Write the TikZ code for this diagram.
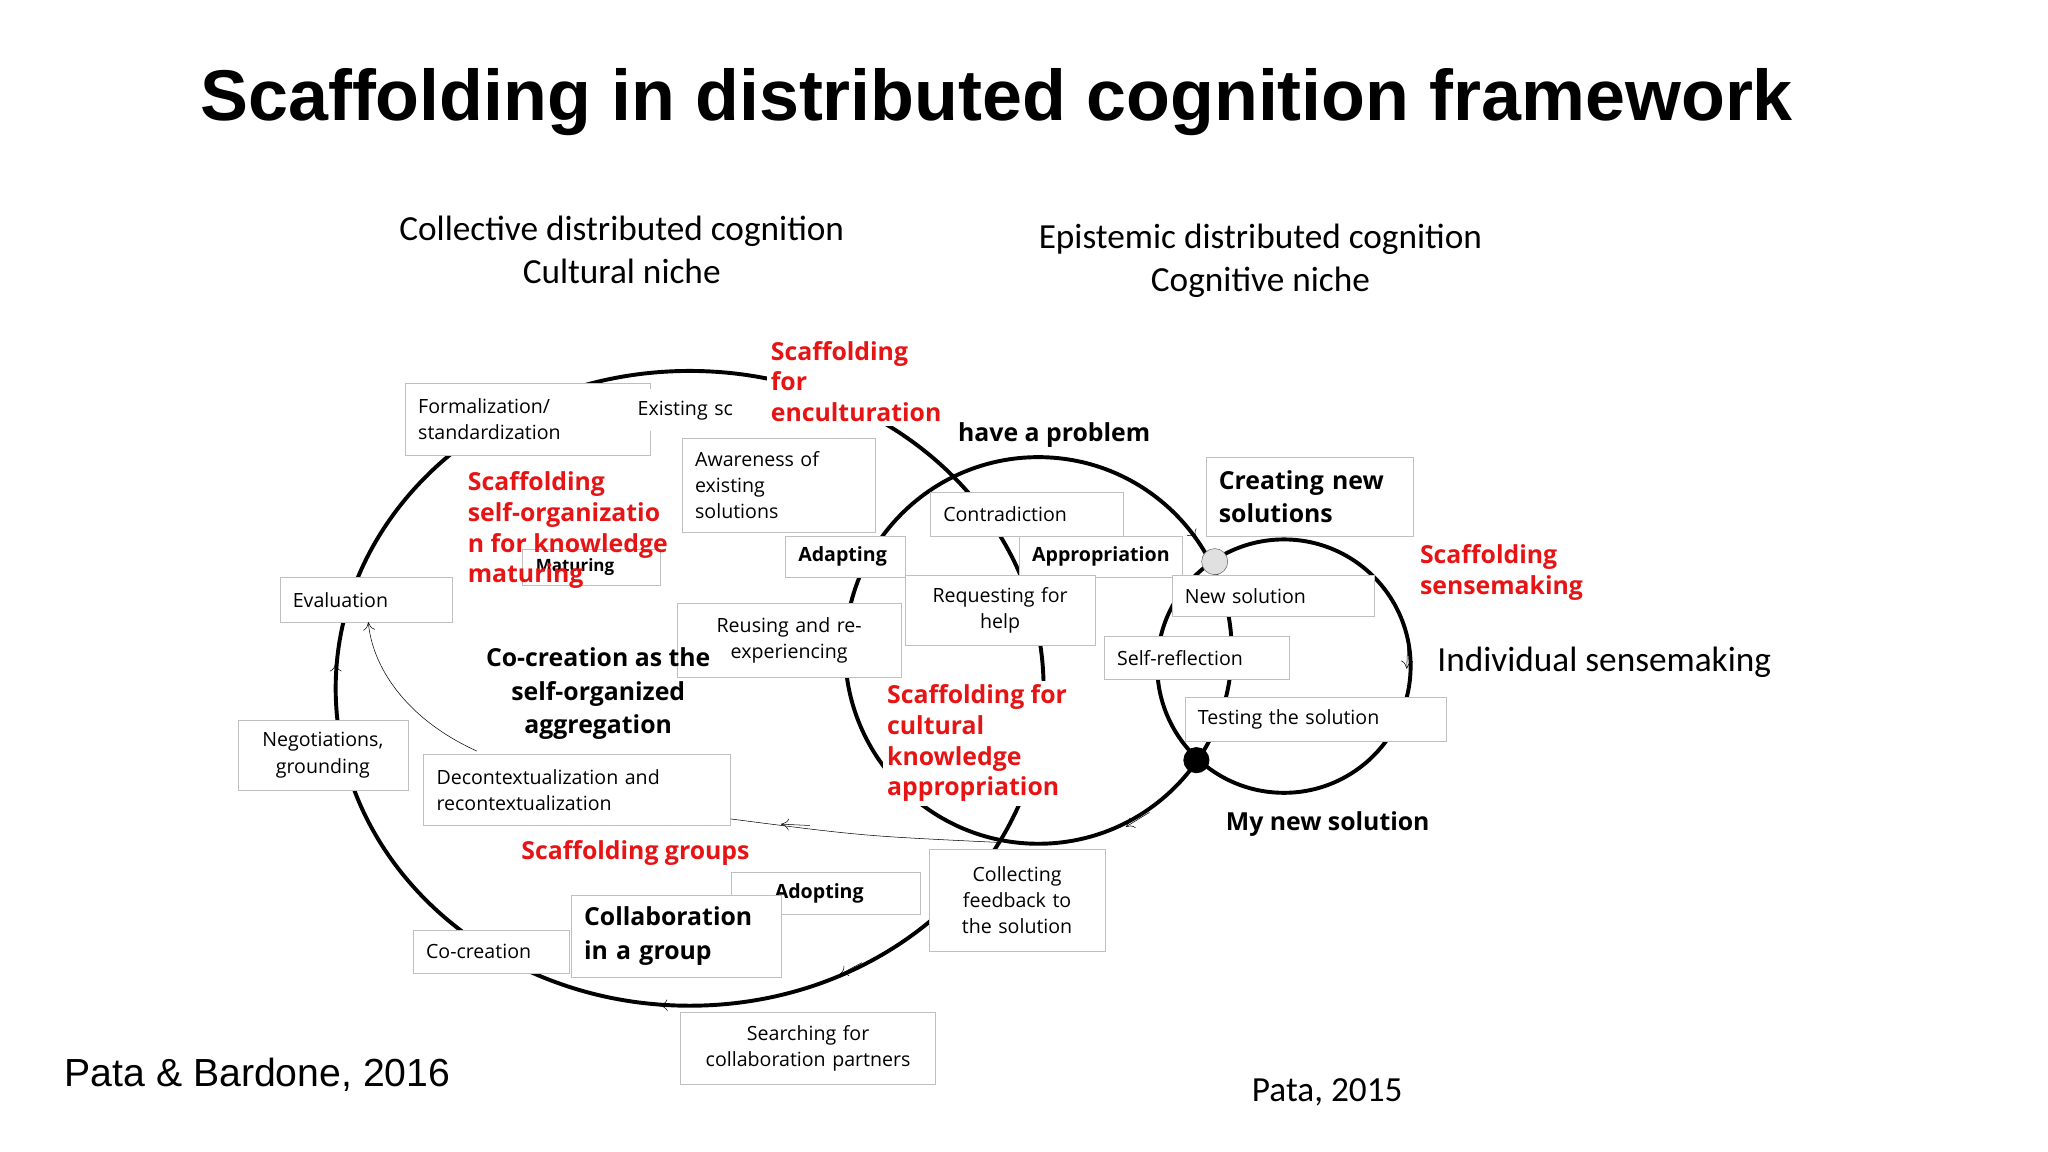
\documentclass[tikz,border=0pt]{standalone}
\usepackage{fontspec}
\setmainfont{Open Sans}
\newfontfamily\carl{Carlito}
\newfontfamily\ari{Liberation Sans}
\usetikzlibrary{arrows.meta}
\definecolor{scred}{RGB}{230,20,20}
\begin{document}
\begin{tikzpicture}[x=1pt,y=-1pt,
 box/.style={draw=black!25,fill=white,font=\fontsize{15}{20}\selectfont,inner xsep=10,inner ysep=3,anchor=north west,align=left},
 bb/.style={box,font=\fontsize{15}{20}\selectfont\bfseries},
 red/.style={text=scred,font=\fontsize{19}{23.5}\selectfont\bfseries,align=left,anchor=north west,inner sep=1},
 circ/.style={line width=3pt},
 tip/.style={thin,-{To[length=6,width=9]}},
 head/.style={font=\carl\fontsize{27}{33}\selectfont,align=center}]
\useasboundingbox (0,0) rectangle (1568,882);
\node[font=\ari\fontsize{55}{62}\selectfont\bfseries] (title) at (763,78) {Scaffolding in distributed cognition framework};
\node[head] (coll) at (476,191) {Collective distributed cognition\\Cultural niche};
\node[head] (epi) at (965,200) {Epistemic distributed cognition\\Cognitive niche};
% circles
\draw[circ] (528,527) ellipse [x radius=271, y radius=243];
\draw[circ] (795,498) circle [radius=148];
\draw[circ] (983,510) circle [radius=97];
% small arrow tips on circles
\draw[tip] (257,530) -- (257,508);
\draw[tip] (620,632) -- (598,631);
\draw[tip] (880,622) -- (862,633);
\draw[tip] (660,737) -- (643,746);
\draw[tip] (525,769) -- (505,770);
\draw[tip] (1078,488) -- (1077,512);
\draw[tip] (905,398) -- (916,412);
% connectors
\coordinate (c1) at (365,575);
\coordinate (c2) at (765,645);
% boxes
\node[box,text width=168,minimum height=55] (form) at (310,293) {Formalization/\\standardization};
\node[box,text width=80,minimum height=32,inner xsep=8,draw=none] (exist) at (480,298) {Existing sc};
\node[red,fill=white,inner sep=3] (encu) at (587,258) {Scaffolding\\for\\enculturation};
\node[box,text width=128,minimum height=72] (aware) at (522,335) {Awareness of\\existing\\solutions};
\node[font=\fontsize{19}{23}\selectfont\bfseries,anchor=west] (prob) at (730,333) {have a problem};
\node[bb,font=\fontsize{13}{16}\selectfont\bfseries,text width=85,minimum height=28] (mat) at (400,420) {Maturing};
\node[red] (selforg) at (357,360) {Scaffolding\\self-organizatio\\n for knowledge\\maturing};
\node[box,text width=112,minimum height=34] (eval) at (214,442) {Evaluation};
\node[bb,text width=72,minimum height=32] (adapt) at (601,410) {Adapting};
\node[box,text width=128,minimum height=33] (contra) at (712,377) {Contradiction};
\node[bb,text width=105,minimum height=32] (approp) at (780,410) {Appropriation};
\node[bb,font=\fontsize{19}{25}\selectfont\bfseries,text width=139,minimum height=60] (create) at (923,350) {Creating new\\solutions};
\node[red] (sense) at (1086,416) {Scaffolding\\sensemaking};
\node[box,text width=135,minimum height=32] (newsol) at (897,440) {New solution};
\node[box,align=center,text width=125,minimum height=54] (req) at (693,440) {Requesting for\\help};
\node[box,align=center,text width=152,minimum height=56] (reuse) at (518,462) {Reusing and re-\\experiencing};
\node[box,text width=122,minimum height=33] (selfref) at (845,487) {Self-reflection};
\node[font=\carl\fontsize{27}{32}\selectfont,anchor=west] (indiv) at (1097,507) {Individual sensemaking};
\node[box,text width=180,minimum height=33] (test) at (907,534) {Testing the solution};
\node[font=\fontsize{19}{26}\selectfont\bfseries,align=center] (cocr) at (458,531) {Co-creation as the\\self-organized\\aggregation};
\node[red,fill=white,inner sep=3] (cult) at (676,521) {Scaffolding for\\cultural\\knowledge\\appropriation};
\node[box,align=center,text width=110,minimum height=54] (nego) at (182,551) {Negotiations,\\grounding};
\node[box,text width=215,minimum height=55] (decon) at (324,577) {Decontextualization and\\recontextualization};
\node[red,anchor=west] (groups) at (398,653) {Scaffolding groups};
\node[font=\fontsize{19}{23}\selectfont\bfseries,anchor=west] (mynew) at (935,631) {My new solution};
\node[bb,text width=78,minimum height=32,align=left,inner xsep=33] (adopt) at (560,668) {Adopting};
\node[box,align=center,text width=115,minimum height=78] (collect) at (711,650) {Collecting\\feedback to\\the solution};
\node[bb,font=\fontsize{19}{26}\selectfont\bfseries,text width=141,minimum height=63] (collab) at (437,685) {Collaboration\\in a group};
\node[box,text width=100,minimum height=33] (cocre) at (316,712) {Co-creation};
\node[box,align=center,text width=175,minimum height=55] (search) at (521,775) {Searching for\\collaboration partners};
% connectors
\draw[thin] (decon.east |- 0,627) .. controls (660,640) .. (c2);
\draw[tip] (c1) .. controls (310,550) and (285,510) .. (eval.south -| 282,0);
\node[circle,fill=black!12,draw=black!60,minimum size=20,inner sep=0] (gd) at (930,430) {};
\node[circle,fill=black,minimum size=20,inner sep=0] (bd) at (916,582) {};
\node[font=\ari\fontsize{30}{36}\selectfont,anchor=west] (pb) at (46,823) {Pata \& Bardone, 2016};
\node[font=\carl\fontsize{27}{32}\selectfont,anchor=west] (p15) at (955,836) {Pata, 2015};
\end{tikzpicture}
\end{document}
